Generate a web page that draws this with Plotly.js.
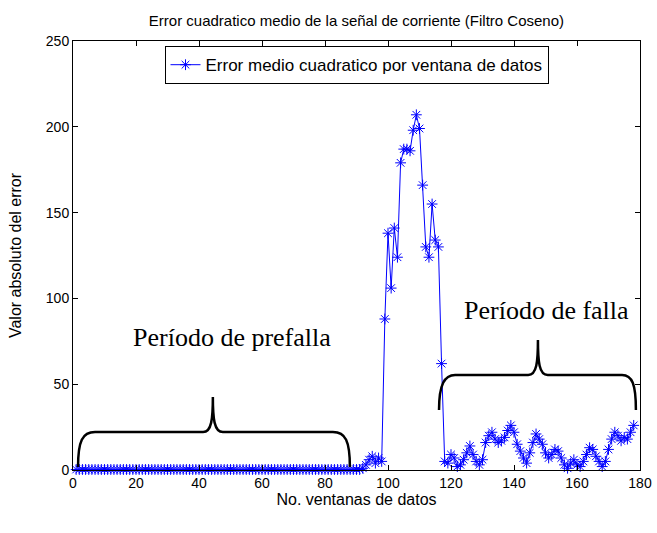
<!DOCTYPE html>
<html>
<head>
<meta charset="utf-8">
<script src="https://cdn.plot.ly/plotly-3.0.1.min.js"></script>
<style>html,body{margin:0;padding:0;background:#fff}#chart{width:657px;height:533px}</style>
</head>
<body>
<div id="chart"></div>
<script>
// ---- data ----
const preFaultCount = 91;            // windows 1..91 (error ~ 0)
const preFaultValue = 0.3;
const transitionWindows = [92,93,94,95,96,97,98];
const transitionValues  = [1,3,6,8,4,7,5];
const faultWindows = [99,100,101,102,103,104,105,106,107,108,109,110,111,112,113,114,115,116,117];
const faultValues  = [88,138,106,141,124,179,187,187,186,198,207,199,166,130,124,155,134,130,62];
const postWindowsStart = 118;
const postValues = [5,4,9,7,2,3,6,10,14,9,5,3,6,16,20,22,18,16,17,19,23,26,22,15,11,7,4,10,16,21,18,15,10,7,9,12,11,7,3,1,4,6,3,2,5,9,13,12,8,5,2,5,12,18,22,20,17,19,18,22,26];
const xTicks = [0,20,40,60,80,100,120,140,160,180];
const yTicks = [0,50,100,150,200,250];

const xs = [], ys = [];
for (let i = 1; i <= preFaultCount; i++) { xs.push(i); ys.push(preFaultValue); }
transitionWindows.forEach((w,k)=>{xs.push(w); ys.push(transitionValues[k]);});
faultWindows.forEach((w,k)=>{xs.push(w); ys.push(faultValues[k]);});
postValues.forEach((v,k)=>{xs.push(postWindowsStart+k); ys.push(v);});

const trace = {
  x: xs, y: ys, type: 'scatter', mode: 'lines+markers',
  name: 'Error medio cuadratico por ventana de datos',
  line: {color: '#0000ff', width: 1},
  marker: {symbol: 'asterisk-open', size: 9, color: '#0000ff', line: {color: '#0000ff', width: 1}},
  cliponaxis: false
};

const brace = 'rgb(0,0,0)';
const shapes = [
  {type:'path', xref:'x', yref:'y', line:{color:brace, width:2.5},
   path:'M 1.6,1.7 C 1.6,17 3,22.1 7,22.1 L 41.3,22.1 C 44,22.1 44.4,30 44.4,42.5 C 44.4,30 44.8,22.1 47.6,22.1 L 82.5,22.1 C 86.5,22.1 87.9,17 87.9,1.7'},
  {type:'path', xref:'x', yref:'y', line:{color:brace, width:2.5},
   path:'M 116.2,35 C 116.2,50 118,55.4 121.3,55.4 L 144.5,55.4 C 147.2,55.4 147.6,63 147.6,75.8 C 147.6,63 148,55.4 150.7,55.4 L 174.3,55.4 C 177.5,55.4 178.7,50 178.7,35'}
];

const serif = 'Liberation Serif, Times New Roman, serif';
const sans = 'Liberation Sans, Arial, sans-serif';
const annotations = [
  {x:50.5, y:77.5, xref:'x', yref:'y', text:'Período de prefalla', showarrow:false,
   font:{family:serif, size:26, color:'#000'}},
  {x:150.2, y:93.2, xref:'x', yref:'y', text:'Período de falla', showarrow:false,
   font:{family:serif, size:26, color:'#000'}}
];

const axisCommon = {
  showgrid:false, zeroline:false, showline:true, linecolor:'#000', linewidth:1, mirror:'ticks',
  ticks:'inside', ticklen:5, tickcolor:'#000', tickfont:{family:sans, size:14, color:'#000'}
};

const layout = {
  width:657, height:533,
  margin:{l:73, r:17, t:41, b:63},
  paper_bgcolor:'#fff', plot_bgcolor:'#fff',
  title:{text:'Error cuadratico medio de la señal de corriente (Filtro Coseno)', x:0.5425, xanchor:'center', y:0.962, yanchor:'middle',
         font:{family:sans, size:15, color:'#000'}},
  xaxis: Object.assign({}, axisCommon, {range:[0,180], tickvals:xTicks, ticktext:xTicks.map(String),
    title:{text:'No. ventanas de datos', standoff:1, font:{family:sans, size:16, color:'#000'}}}),
  yaxis: Object.assign({}, axisCommon, {range:[0,250], tickvals:yTicks, ticktext:yTicks.map(String),
    title:{text:'Valor absoluto del error', standoff:20, font:{family:sans, size:16, color:'#000'}}}),
  showlegend:true,
  legend:{x:0.5, xanchor:'center', y:0.988, yanchor:'top', bgcolor:'#fff', bordercolor:'#000', borderwidth:1,
          font:{family:sans, size:17, color:'#000'}},
  shapes: shapes, annotations: annotations
};

Plotly.newPlot('chart', [trace], layout, {displayModeBar:false, staticPlot:true});
</script>
</body>
</html>
